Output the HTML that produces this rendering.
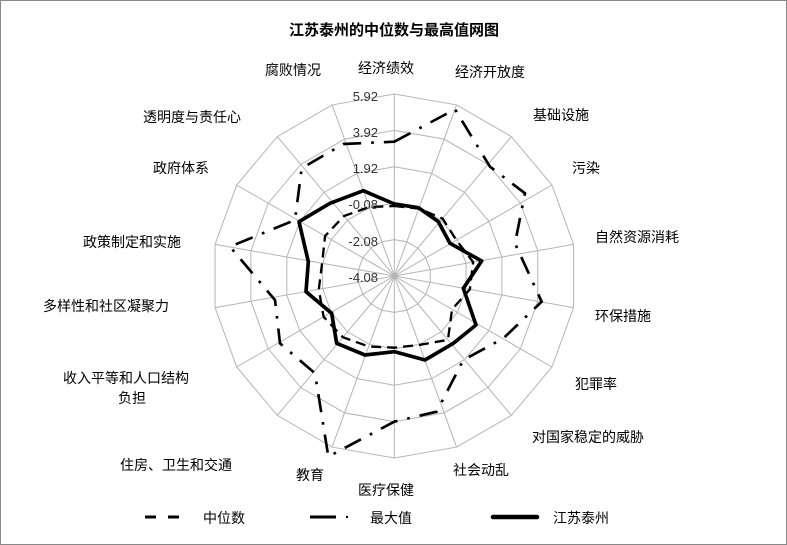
<!DOCTYPE html>
<html><head><meta charset="utf-8"><style>
html,body{margin:0;padding:0;background:#fff;}
svg{display:block;}
text{font-family:"Liberation Sans","Noto Sans CJK SC",sans-serif;font-size:14px;fill:#000;}
.v{font-size:13px;text-anchor:end;fill:#333;}
</style></head><body>
<svg width="787" height="545" viewBox="0 0 787 545" xmlns="http://www.w3.org/2000/svg">
<rect x="0.5" y="0.5" width="786" height="544" fill="#fff" stroke="#888"/>
<text x="394" y="35" text-anchor="middle" style="font-weight:bold;font-size:15px">江苏泰州的中位数与最高值网图</text>
<g transform="translate(200,80) scale(0.33333)">
<defs><polygon id="ring" vector-effect="non-scaling-stroke" fill="none" stroke="#b4b4b4" stroke-width="1" points="0,-100 34.2,-94 64.3,-76.6 86.6,-50 98.5,-17.4 98.5,17.4 86.6,50 64.3,76.6 34.2,94 0,100 -34.2,94 -64.3,76.6 -86.6,50 -98.5,17.4 -98.5,-17.4 -86.6,-50 -64.3,-76.6 -34.2,-94"/></defs>
<g transform="translate(583,588) scale(1.092)"><use href="#ring"/></g>
<g transform="translate(583,588) scale(2.184)"><use href="#ring"/></g>
<g transform="translate(583,588) scale(3.276)"><use href="#ring"/></g>
<g transform="translate(583,588) scale(4.368)"><use href="#ring"/></g>
<g transform="translate(583,588) scale(5.46)"><use href="#ring"/></g>
<g transform="translate(583,588) scale(5.46)" fill="none">
<path vector-effect="non-scaling-stroke" stroke="#b4b4b4" stroke-width="1" d="M0,0L0,-100M0,0L34.2,-94M0,0L64.3,-76.6M0,0L86.6,-50M0,0L98.5,-17.4M0,0L98.5,17.4M0,0L86.6,50M0,0L64.3,76.6M0,0L34.2,94M0,0L0,100M0,0L-34.2,94M0,0L-64.3,76.6M0,0L-86.6,50M0,0L-98.5,17.4M0,0L-98.5,-17.4M0,0L-86.6,-50M0,0L-64.3,-76.6M0,0L-34.2,-94"/>
</g>
<!-- median -->
<polygon fill="none" stroke="#000" stroke-width="7" stroke-dasharray="30,18" points="583,378 656.5,385.9 727.7,415.6 769.2,480.5 819.4,546.2 809.6,628 756.2,688 743.8,779.5 658.2,794.8 583,803 506,799.5 428.7,771.8 370.8,710.5 356.4,628 366.3,549.7 375.2,468 431.9,408 507.8,381.2"/>
<!-- max -->
<polygon fill="none" stroke="#000" stroke-width="8" stroke-dasharray="55,30,8,30" points="583,185 765,88 870,260 975,340 945,490 1025,665 910,775 790,840 710,995 583,1025 385,1130 345,880 240,790 225,660 90,500 285,420 305,265 430,192"/>
<!-- jiangsu -->
<polygon fill="none" stroke="#000" stroke-width="11" stroke-linejoin="round" points="583,372 655,383 715,425 750,490 845,543 790,625 828,735 760,790 675,840 583,815 495,825 410,790 395,700 318,635 325,545 297,425 390,370 490,332"/>
</g>
<text class="v" x="378" y="101">5.92</text>
<text class="v" x="378" y="137">3.92</text>
<text class="v" x="378" y="173">1.92</text>
<text class="v" x="378" y="209">-0.08</text>
<text class="v" x="378" y="246">-2.08</text>
<text class="v" x="378" y="282">-4.08</text>
<text x="358" y="73">经济绩效</text>
<text x="265" y="75">腐败情况</text>
<text x="455" y="77">经济开放度</text>
<text x="533" y="120">基础设施</text>
<text x="143" y="122">透明度与责任心</text>
<text x="153" y="173">政府体系</text>
<text x="572" y="173">污染</text>
<text x="83" y="247">政策制定和实施</text>
<text x="595" y="242">自然资源消耗</text>
<text x="43" y="311">多样性和社区凝聚力</text>
<text x="595" y="321">环保措施</text>
<text x="63" y="383">收入平等和人口结构</text>
<text x="118" y="403">负担</text>
<text x="575" y="389">犯罪率</text>
<text x="532" y="442">对国家稳定的威胁</text>
<text x="120" y="470">住房、卫生和交通</text>
<text x="453" y="475">社会动乱</text>
<text x="296" y="480">教育</text>
<text x="358" y="495">医疗保健</text>
<line x1="145" y1="517" x2="181" y2="517" stroke="#000" stroke-width="3" stroke-dasharray="11,12"/>
<text x="203" y="523">中位数</text>
<line x1="310" y1="517" x2="336" y2="517" stroke="#000" stroke-width="3"/>
<circle cx="347" cy="517" r="1.2" fill="#000"/>
<text x="370" y="523">最大值</text>
<line x1="493" y1="517" x2="537" y2="517" stroke="#000" stroke-width="4.5" stroke-linecap="round"/>
<text x="553" y="523">江苏泰州</text>
</svg>
</body></html>
